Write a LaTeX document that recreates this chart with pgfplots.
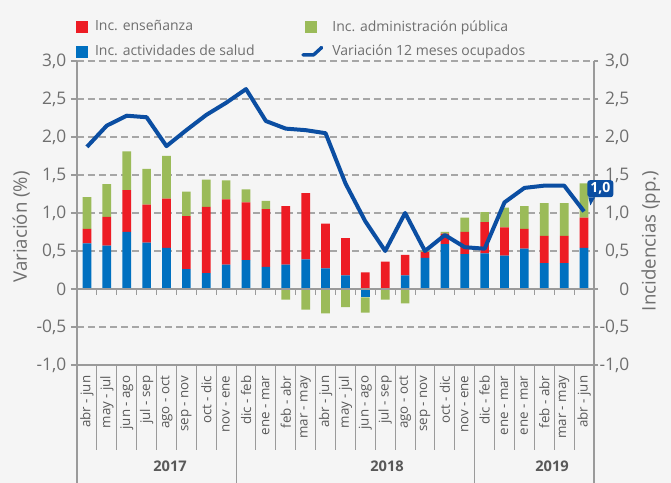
\documentclass[border=0pt]{standalone}
\usepackage{fontspec}
\setmainfont{Open Sans}
\usepackage{pgfplots}
\pgfplotsset{compat=1.18}
\usepackage{pgfplotstable}
\usetikzlibrary{backgrounds}

\definecolor{bg}{HTML}{F5F5F5}
\definecolor{cblue}{HTML}{0070C0}
\definecolor{cred}{HTML}{ED1C24}
\definecolor{cgreen}{HTML}{9BBB59}
\definecolor{cline}{HTML}{0B4EA2}
\definecolor{cgrid}{HTML}{A6A6A6}
\definecolor{ctext}{HTML}{6F6F6F}
\definecolor{cdark}{HTML}{595959}
\definecolor{caxis}{HTML}{9A9A9A}

% incidencias (pp.) por componente; negativos aparte para apilar hacia abajo
\pgfplotstableread{
x  blue  red   green  bneg   gneg   var
1  0.60  0.19  0.42   0      0      1.87
2  0.57  0.38  0.43   0      0      2.15
3  0.75  0.55  0.51   0      0      2.28
4  0.61  0.50  0.47   0      0      2.26
5  0.54  0.65  0.56   0      0      1.88
6  0.26  0.70  0.32   0      0      2.09
7  0.21  0.87  0.36   0      0      2.29
8  0.32  0.86  0.25   0      0      2.45
9  0.38  0.76  0.17   0      0      2.63
10 0.29  0.76  0.11   0      0      2.21
11 0.32  0.77  0      0      -0.14  2.11
12 0.39  0.87  0      0      -0.27  2.09
13 0.27  0.59  0      0      -0.32  2.05
14 0.18  0.49  0      0      -0.24  1.39
15 0     0.22  0      -0.11  -0.20  0.89
16 0.01  0.35  0      0      -0.14  0.50
17 0.18  0.27  0      0      -0.19  1.00
18 0.41  0.08  0.01   0      0      0.50
19 0.59  0.14  0.02   0      0      0.71
20 0.46  0.29  0.19   0      0      0.55
21 0.47  0.41  0.13   0      0      0.53
22 0.44  0.37  0.26   0      0      1.14
23 0.53  0.26  0.30   0      0      1.33
24 0.34  0.36  0.43   0      0      1.36
25 0.34  0.36  0.43   0      0      1.36
26 0.54  0.40  0.45   0      0      1.02
}\datos

\pgfplotsset{
  base/.style={width=387.75pt, height=228pt, scale only axis,
    xmin=0.5, xmax=26.5, ymin=-1, ymax=3, clip=false},
  yt/.style={ytick={-1,-0.5,0,0.5,1,1.5,2,2.5,3},
    yticklabels={{-1,0},{-0,5},0,{0,5},{1,0},{1,5},{2,0},{2,5},{3,0}},
    yticklabel style={font=\fontsize{13}{15}\selectfont, text=ctext},
    ytick style={caxis, line width=0.8pt}, tick align=outside},
  sq/.style={legend image code/.code={\fill[#1] (0pt,-4.1pt) rectangle (8.25pt,4.1pt);
    \path[draw=none, fill=none] (0pt,0pt) -- (12pt,0pt);}},
}

\begin{document}
\begin{tikzpicture}
\begin{axis}[base, yt,
    ybar stacked, bar width=6.5pt,
    axis x line*=bottom, axis y line*=left,
    axis line style={caxis, line width=0.8pt},
    major tick length=4.5pt,
    xtick={1,...,26},
    xticklabels={abr - jun, may - jul, jun - ago, jul - sep, ago - oct, sep - nov,
      oct - dic, nov - ene, dic - feb, ene - mar, feb - abr, mar - may, abr - jun,
      may - jul, jun - ago, jul - sep, ago - oct, sep - nov, oct - dic, nov - ene,
      dic - feb, ene - mar, ene - mar, feb - abr, mar - may, abr - jun},
    xtick style={draw=none},
    xticklabel style={rotate=90, anchor=east, font=\fontsize{10}{12}\selectfont, text=cdark},
    ymajorgrids,
    grid style={cgrid, line width=1pt, dash pattern=on 5.25pt off 3pt},
]
\addplot[fill=cblue, draw=none] table[x=x, y=blue]{\datos};
\addplot[fill=cred, draw=none] table[x=x, y=red]{\datos};
\addplot[fill=cgreen, draw=none] table[x=x, y=green]{\datos};
\end{axis}

\begin{axis}[base, hide axis, ybar stacked, bar width=6.5pt]
\addplot[fill=cblue, draw=none] table[x=x, y=bneg]{\datos};
\addplot[fill=cgreen, draw=none] table[x=x, y=gneg]{\datos};
\end{axis}

\begin{axis}[base, yt,
    axis x line=none, axis y line*=right,
    axis line style={caxis, line width=0.8pt},
    major tick length=3pt,
    yticklabel style={anchor=east, xshift=27pt},
    legend columns=2, legend cell align=left,
    legend style={at={(-0.01,1.152)}, anchor=north west, draw=none, fill=none,
      font=\fontsize{10.5}{12}\selectfont, text=ctext, row sep=5pt,
      /tikz/every even column/.append style={column sep=33pt}},
]
\addlegendimage{sq=cred}
\addlegendimage{sq=cgreen}
\addlegendimage{sq=cblue}
\addplot[cline, line width=3pt, line join=round, mark=none,
  legend image code/.code={\draw[cline, line width=2.6pt, line cap=round]
    (-2pt,-2.5pt) -- (6pt,-2.5pt) -- (12pt,3pt);
    \path[draw=none, fill=none] (0pt,0pt) -- (18pt,0pt);}]
  table[x=x, y=var]{\datos};
\legend{Inc. enseñanza, Inc. administración pública, Inc. actividades de salud, Variación 12 meses ocupados}

% eje cero, separadores y años
\draw[caxis, line width=0.8pt] (axis cs:0.5,0) -- (axis cs:26.5,0);
\pgfplotsinvokeforeach{1.5,2.5,...,25.5}{
  \draw[caxis, line width=0.8pt] (axis cs:#1,0) -- (axis cs:#1,-0.075);
  \draw[caxis, line width=0.8pt] (axis cs:#1,-1) -- (axis cs:#1,-2.12);
}
\pgfplotsinvokeforeach{0.5,8.5,20.5,26.5}{
  \draw[caxis, line width=0.8pt] (axis cs:#1,-1) -- (axis cs:#1,-2.56);
}
\node[font=\bfseries\fontsize{11}{13}\selectfont, text=cdark] at (axis cs:5.18,-2.33) {2017};
\node[font=\bfseries\fontsize{11}{13}\selectfont, text=cdark] at (axis cs:16.09,-2.33) {2018};
\node[font=\bfseries\fontsize{11}{13}\selectfont, text=cdark] at (axis cs:24.39,-2.33) {2019};

\node[rotate=90, font=\fontsize{14}{16}\selectfont, text=ctext] at (axis description cs:-0.108,0.454) {Variación (\%)};
\node[rotate=90, font=\fontsize{14}{16}\selectfont, text=ctext] at (axis description cs:1.110,0.408) {Incidencias (pp.)};

% etiqueta del último dato
\node[fill=cline, text=white, font=\bfseries\fontsize{10.5}{12}\selectfont, rounded corners=2pt,
  inner sep=1.5pt, anchor=south west, minimum width=19.5pt, minimum height=12.75pt]
  (cb) at ([xshift=2.25pt, yshift=10.5pt]axis cs:26,1.02) {1,0};
\fill[cline] ([xshift=1pt]cb.south west) -- ([xshift=6pt]cb.south west)
  -- ([xshift=2.5pt, yshift=-6pt]cb.south west) -- cycle;

\coordinate (bbsw) at ([xshift=-57.75pt, yshift=-88.5pt]rel axis cs:0,0);
\coordinate (bbne) at ([xshift=57.75pt, yshift=45.75pt]rel axis cs:1,1);
\end{axis}

\pgfresetboundingbox
\path[use as bounding box] (bbsw) rectangle (bbne);
\begin{scope}[on background layer]
\fill[bg] (bbsw) rectangle (bbne);
\end{scope}
\end{tikzpicture}
\end{document}
